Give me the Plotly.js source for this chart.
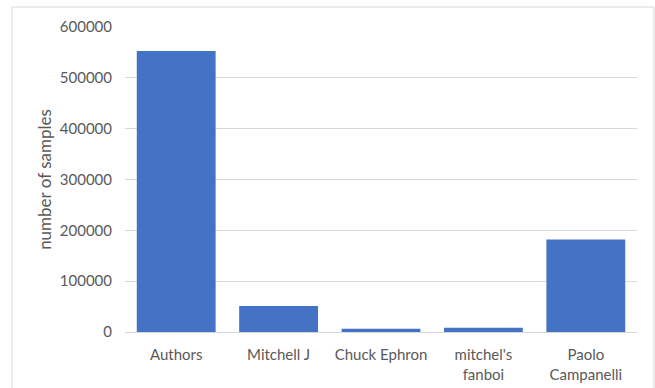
<!DOCTYPE html>
<html>
<head>
<meta charset="utf-8">
<script src="https://cdn.plot.ly/plotly-3.0.1.min.js"></script>
<style>
  html, body { margin: 0; padding: 0; background: #ffffff; }
  #chart { width: 655px; height: 388px; }
</style>
</head>
<body>
<div id="chart"></div>
<script>
// Sample counts per contributor
const categories = ["Authors", "Mitchell J", "Chuck Ephron", "mitchel's<br>fanboi", "Paolo<br>Campanelli"];
const sampleCounts = [553000, 51000, 6500, 8500, 182000];
const yTickValues = [0, 100000, 200000, 300000, 400000, 500000, 600000];
const yTickLabels = ["0", "100000", "200000", "300000", "400000", "500000", "600000"];

const textColor = "#595959";
const gridColor = "#d9d9d9";
const fontFamily = "Lato, 'Open Sans', 'Liberation Sans', sans-serif";

const trace = {
  type: "bar",
  x: categories,
  y: sampleCounts,
  marker: { color: "#4472c4" },
  hoverinfo: "x+y"
};

const layout = {
  width: 655,
  height: 388,
  margin: { l: 125, r: 18, t: 27, b: 56 },
  paper_bgcolor: "#ffffff",
  plot_bgcolor: "#ffffff",
  bargap: 0.23,
  showlegend: false,
  font: { family: fontFamily, size: 15, color: textColor },
  xaxis: {
    type: "category",
    showgrid: false,
    showline: false,
    zeroline: false,
    ticks: "",
    ticklabelstandoff: 12,
    tickfont: { family: fontFamily, size: 15, color: textColor }
  },
  yaxis: {
    range: [0, 600000],
    tickmode: "array",
    tickvals: yTickValues,
    ticktext: yTickLabels,
    showgrid: true,
    gridcolor: gridColor,
    gridwidth: 1,
    zeroline: true,
    zerolinecolor: gridColor,
    zerolinewidth: 1,
    showline: false,
    ticks: "",
    ticklabelstandoff: 12,
    tickfont: { family: fontFamily, size: 15, color: textColor },
    title: {
      text: "number of samples",
      font: { family: fontFamily, size: 17, color: textColor },
      standoff: 3
    }
  },
  shapes: [
    {
      // light frame around the chart area
      type: "rect",
      xref: "paper",
      yref: "paper",
      x0: -0.2207,
      x1: 1.033,
      y0: -0.25,
      y1: 1.0656,
      line: { color: gridColor, width: 1 },
      fillcolor: "rgba(0,0,0,0)",
      layer: "below"
    }
  ]
};

Plotly.newPlot("chart", [trace], layout, { displayModeBar: false, staticPlot: true });
</script>
</body>
</html>
